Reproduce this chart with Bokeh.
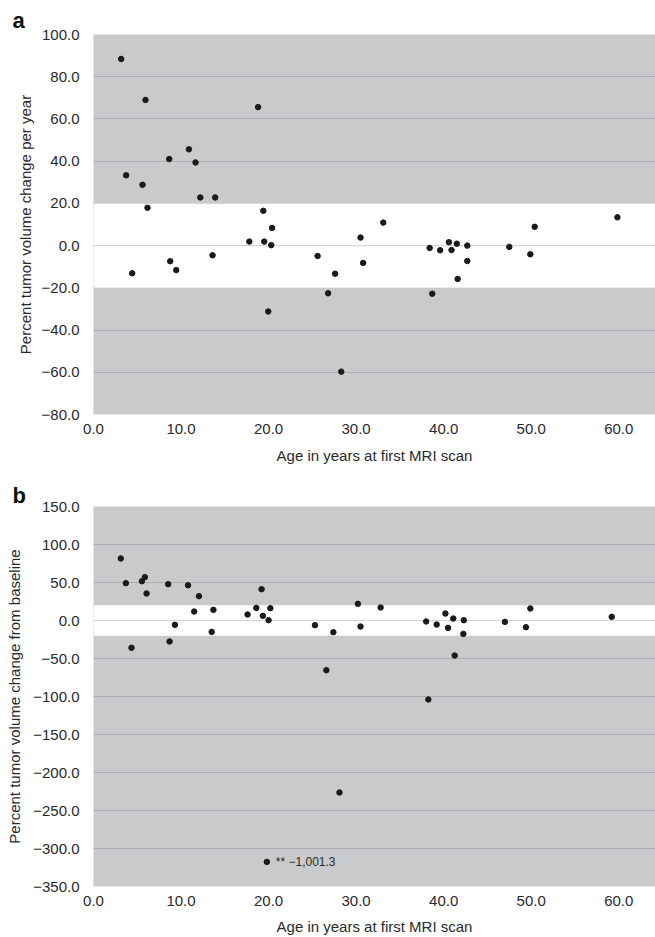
from bokeh.plotting import figure
from bokeh.layouts import column
from bokeh.models import FixedTicker, CustomJSTickFormatter, BoxAnnotation, Span, Label, Range1d
from bokeh.embed import file_html
from bokeh.resources import INLINE

# ---- data ----
age_a = [3.16, 3.73, 4.42, 5.6, 5.94, 6.17, 8.65, 8.76, 9.45, 10.9, 11.66, 12.2, 13.6, 13.9,
         17.8, 18.8, 19.4, 19.5, 19.96, 20.3, 20.4, 25.6, 26.8, 27.6, 28.3, 30.5, 30.8, 33.1,
         38.4, 38.7, 39.6, 40.6, 40.9, 41.5, 41.6, 42.7, 42.7, 47.5, 49.9, 50.4, 59.85]
change_per_year = [88.4, 33.3, -13.1, 28.8, 69.0, 17.9, 41.0, -7.4, -11.6, 45.6, 39.4, 22.8, -4.6, 22.8,
                   1.9, 65.6, 16.5, 1.9, -31.2, 0.2, 8.4, -4.9, -22.6, -13.3, -59.7, 3.8, -8.2, 10.9,
                   -1.1, -22.8, -2.2, 1.6, -2.1, 0.9, -15.8, 0.0, -7.3, -0.6, -4.1, 8.9, 13.4]

age_b = [3.12, 3.7, 4.34, 5.53, 5.87, 6.06, 8.53, 8.69, 9.3, 10.8, 11.5, 12.05, 13.5, 13.7,
         17.6, 18.6, 19.2, 19.35, 19.8, 20.0, 20.2, 25.3, 26.6, 27.4, 28.1, 30.2, 30.5, 32.8,
         38.0, 38.25, 39.2, 40.2, 40.5, 41.1, 41.26, 42.25, 42.3, 47.0, 49.4, 49.9, 59.2]
change_baseline = [81.6, 49.1, -36.0, 51.7, 57.0, 35.5, 47.8, -27.6, -5.7, 46.4, 11.8, 32.0, -15.0, 14.0,
                   7.9, 16.6, 41.2, 6.1, -317.6, 0.4, 16.2, -6.2, -65.4, -15.4, -226.3, 21.9, -7.9, 17.1,
                   -1.3, -103.9, -5.3, 9.2, -9.7, 2.6, -46.1, -17.6, 0.4, -1.8, -8.8, 15.8, 4.8]

ticks_a = [-80, -60, -40, -20, 0, 20, 40, 60, 80, 100]
ticks_b = [-350, -300, -250, -200, -150, -100, -50, 0, 50, 100, 150]
ticks_x = [0, 10, 20, 30, 40, 50, 60]
band = [-20, 20]
outlier_note = "** \u22121,001.3"
outlier_index = 18

FONT = "Liberation Sans"
TEXT = "#2a2a2a"
GRAY = "#c9cacc"
GRID = "#adaeb1"

fmt = CustomJSTickFormatter(code="return (tick < 0 ? '\\u2212' : '') + Math.abs(tick).toFixed(1);")


def panel(ages, vals, yticks, ylabel, letter, height, top, bottom, ylab_standoff,
          xlab_standoff, xtick_standoff, title_standoff):
    p = figure(width=655, height=height, output_backend="svg", toolbar_location=None,
               x_range=Range1d(0, 64.2), y_range=Range1d(yticks[0], yticks[-1]),
               min_border_left=93, min_border_right=0, min_border_top=top, min_border_bottom=bottom)
    p.background_fill_color = GRAY
    p.border_fill_color = "white"
    p.outline_line_color = None
    p.xgrid.visible = False
    p.ygrid.ticker = FixedTicker(ticks=yticks)
    p.ygrid.grid_line_color = GRID
    p.ygrid.grid_line_width = 1.2

    p.title.text = letter
    p.title.align = "left"
    p.title.offset = -81
    p.title.standoff = title_standoff
    p.title.text_font = FONT
    p.title.text_font_size = "22px"
    p.title.text_font_style = "bold"
    p.title.text_color = "#111111"

    b = BoxAnnotation(bottom=band[0], top=band[1], fill_color="white", fill_alpha=1.0,
                      line_color=None, level="underlay")
    p.add_layout(b)
    p.add_layout(Span(location=0, dimension="width", line_color="#d6d6d6", line_width=1.2, level="underlay"))

    for ax, ticks in ((p.xaxis, ticks_x), (p.yaxis, yticks)):
        ax.ticker = FixedTicker(ticks=ticks)
        ax.formatter = fmt
        ax.axis_line_color = None
        ax.major_tick_line_color = None
        ax.minor_tick_line_color = None
        ax.major_label_text_font = FONT
        ax.major_label_text_font_size = "15px"
        ax.major_label_text_color = TEXT
        ax.axis_label_text_font = FONT
        ax.axis_label_text_font_size = "15px"
        ax.axis_label_text_font_style = "normal"
        ax.axis_label_text_color = TEXT
    p.xaxis.axis_label = "Age in years at first MRI scan"
    p.yaxis.axis_label = ylabel
    p.xaxis.major_label_standoff = xtick_standoff
    p.yaxis.major_label_standoff = 8
    p.xaxis.axis_label_standoff = xlab_standoff
    p.yaxis.axis_label_standoff = ylab_standoff

    p.scatter(ages, vals, size=5.5, color="#1a1a1a")
    return p


pa = panel(age_a, change_per_year, ticks_a, "Percent tumor volume change per year", "a",
           466, 34, 52, 5, 10, 3, 4)
pb = panel(age_b, change_baseline, ticks_b, "Percent tumor volume change from baseline", "b",
           471, 40, 51, 7, 9, 3, -3)
pb.add_layout(Label(x=age_b[outlier_index], y=change_baseline[outlier_index], text=outlier_note,
                    x_offset=9, text_baseline="middle", text_font=FONT, text_font_size="12px",
                    text_color=TEXT))

layout = column(pa, pb, spacing=0)
open("out.html", "w").write(file_html(layout, INLINE))
